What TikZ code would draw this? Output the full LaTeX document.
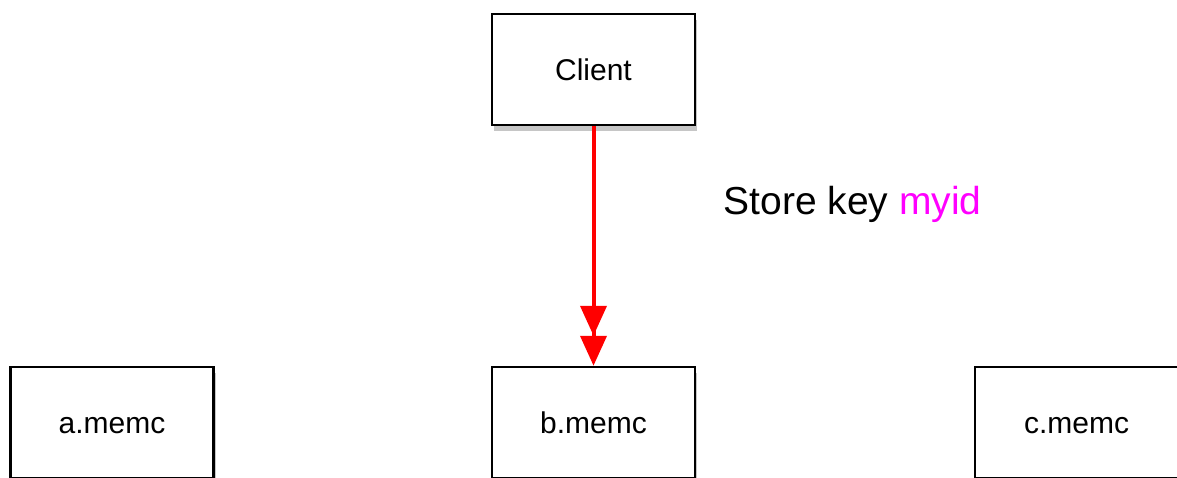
\documentclass[tikz,border=0pt]{standalone}
\usepackage{fontspec}
\setmainfont{Liberation Sans}
\usetikzlibrary{arrows.meta,shadows}
\definecolor{keypink}{RGB}{255,0,255}

\begin{document}
\begin{tikzpicture}[x=1pt,y=1pt,
	box/.style={rectangle,draw,line width=2.5pt,fill=white,minimum width=203pt,minimum height=111pt,
		text height=22pt,text depth=0pt,font=\fontsize{30}{36}\selectfont,
		drop shadow={shadow xshift=2pt,shadow yshift=-6pt,opacity=0.45}}]
\useasboundingbox (0,0) rectangle (1177,-477);
\clip (0,0) rectangle (1177,-477);
\node [box] (client) at (593.5,-69.5) {Client};
\node [box] (a) at (112,-422.5) {a.memc};
\node [box] (b) at (593.5,-422.5) {b.memc};
\node [box] (c) at (1076.5,-422.5) {c.memc};
\draw [red,line width=4pt,shorten >=10pt,
	-{Triangle[length=30pt,width=26pt]Triangle[length=30pt,width=26pt,sep=-10pt]}] (client) -- (b);
\node (store) [anchor=base west,font=\fontsize{39}{46}\selectfont] at (720,-214) {Store key \textcolor{keypink}{myid}};
\end{tikzpicture}
\end{document}
